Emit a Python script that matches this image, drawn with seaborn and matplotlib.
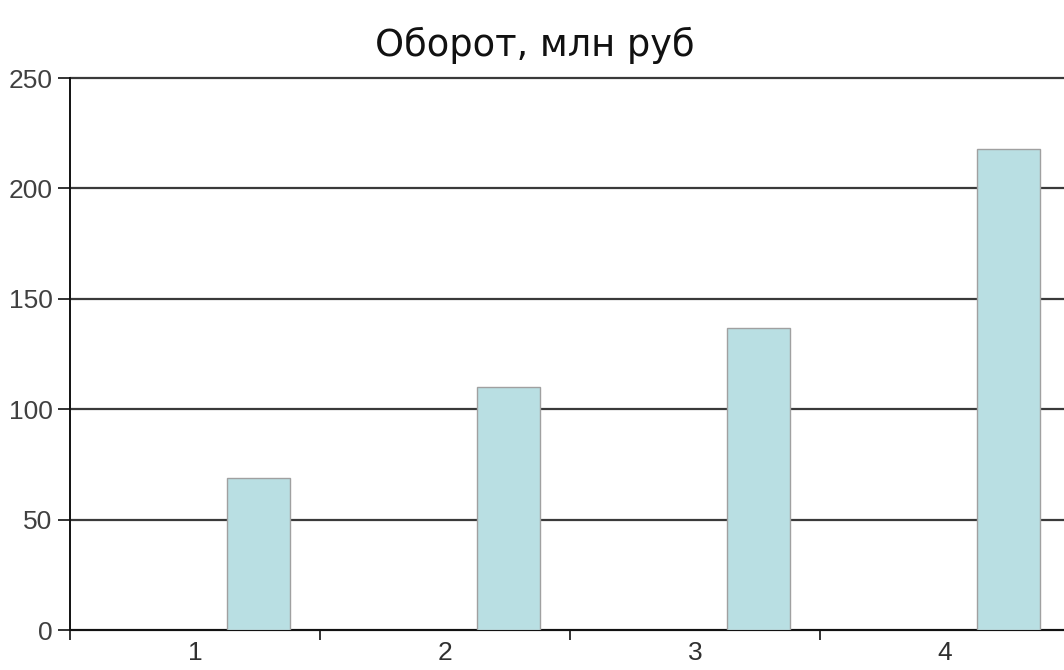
import matplotlib
matplotlib.use('Agg')
import matplotlib.pyplot as plt
import pandas as pd
import seaborn as sns

# data
categories = ['1', '2', '3', '4']
turnover = [69, 110, 137, 218]
series_name = 'Оборот'
# the original chart reserves two empty series slots before the visible one
empty_series = ['_a', '_b']

sns.set_theme(style='white')
plt.rcParams['font.family'] = ['Liberation Sans', 'DejaVu Sans']

rows = []
for s in empty_series:
    for c in categories:
        rows.append({'cat': c, 'val': 0.0, 'series': s})
for c, v in zip(categories, turnover):
    rows.append({'cat': c, 'val': v, 'series': series_name})
df = pd.DataFrame(rows)

fig = plt.figure(figsize=(10.64, 6.7), dpi=100)
ax = fig.add_axes([70 / 1064, 40 / 670, 1000 / 1064, 552 / 670])

sns.barplot(data=df, x='cat', y='val', hue='series',
            hue_order=empty_series + [series_name],
            palette=['#b9dfe3'] * 3,
            edgecolor='#a0a0a0', linewidth=1, width=0.76, saturation=1,
            legend=False, ax=ax, zorder=3)

# hide the placeholder (empty) bars
for p in ax.patches:
    if p.get_height() == 0:
        p.set_visible(False)

ax.set_ylim(0, 250)
ax.set_xlim(-0.5, 3.5)
ax.set_yticks([0, 50, 100, 150, 200, 250])
ax.yaxis.grid(True, color='#3a3a3a', linewidth=1.6, zorder=0)
ax.set_axisbelow(True)
for gl in ax.get_ygridlines():
    gl.set_clip_on(False)

# category tick marks at group boundaries, labels centred
ax.set_xticks([-0.5, 0.5, 1.5, 2.5, 3.5])
ax.set_xticklabels([])
ax.set_xticks(range(len(categories)), minor=True)
ax.set_xticklabels(categories, minor=True)
ax.tick_params(axis='x', which='major', direction='out', length=7, width=1.2, color='#111111')
ax.tick_params(axis='x', which='minor', length=0, labelsize=19, pad=8, labelcolor='#303030')
ax.tick_params(axis='y', direction='out', length=9, width=1.2, color='#111111',
               labelsize=19, pad=3.5, labelcolor='#404040')
ax.tick_params(left=True, bottom=True)

ax.set_xlabel('')
ax.set_ylabel('')
for side in ['top', 'right']:
    ax.spines[side].set_visible(False)
for side in ['left', 'bottom']:
    ax.spines[side].set_color('#111111')
    ax.spines[side].set_linewidth(1.4)

fig.text(535 / 1064, 1 - 45 / 670, 'Оборот, млн руб', ha='center', va='center',
         fontsize=26.5, color='#111111', family=['DejaVu Sans'])

fig.savefig('out.png', dpi=100)
